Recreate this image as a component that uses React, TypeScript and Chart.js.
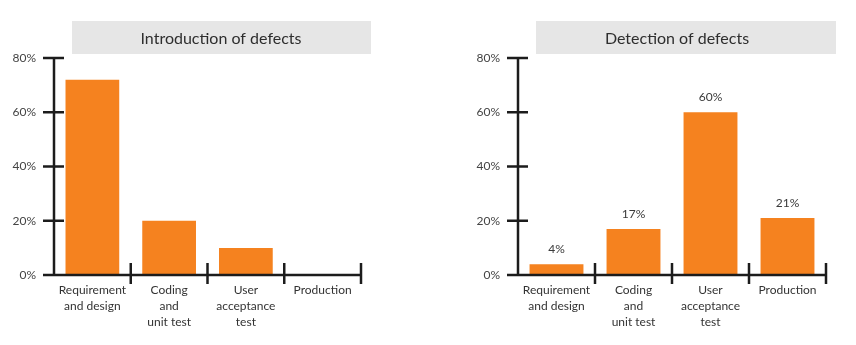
import React, { useEffect, useRef } from "react";
import { Chart, registerables } from "chart.js";
Chart.register(...registerables);

const categories: string[][] = [
  ["Requirement", "and design"],
  ["Coding", "and", "unit test"],
  ["User", "acceptance", "test"],
  ["Production"],
];
const introductionValues = [72, 20, 10, 0];
const detectionValues = [4, 17, 60, 21];
const yTicks = [0, 20, 40, 60, 80];
const introductionTitle = "Introduction of defects";
const detectionTitle = "Detection of defects";

const ORANGE = "#F5821F";
const AXIS = "#1c1c1c";
const FONT = "Lato, 'Open Sans', sans-serif";

const decorPlugin = {
  id: "decor",
  beforeDraw(chart: any, _args: any, opts: any) {
    const ctx = chart.ctx;
    ctx.save();
    ctx.fillStyle = "#e6e6e6";
    ctx.fillRect(opts.boxX, opts.boxY, opts.boxW, opts.boxH);
    ctx.fillStyle = "#2e2e2e";
    ctx.font = `16px ${FONT}`;
    ctx.textAlign = "center";
    ctx.textBaseline = "middle";
    ctx.fillText(opts.title, opts.textX, opts.boxY + opts.boxH / 2 + 1);
    ctx.restore();
  },
  afterDraw(chart: any, _args: any, opts: any) {
    const { ctx, chartArea, scales } = chart;
    const x = scales.x;
    const y = scales.y;
    const base = y.getPixelForValue(0);
    const top = y.getPixelForValue(yTicks[yTicks.length - 1]);
    const left = chartArea.left;
    ctx.save();
    ctx.strokeStyle = AXIS;
    ctx.lineWidth = 2.5;
    ctx.lineCap = "butt";
    ctx.beginPath();
    ctx.moveTo(left, top - 1);
    ctx.lineTo(left, base);
    ctx.moveTo(left, base);
    ctx.lineTo(chartArea.right, base);
    for (const t of yTicks) {
      const py = y.getPixelForValue(t);
      ctx.moveTo(left - 11, py);
      ctx.lineTo(left + 10, py);
    }
    const n = x.ticks.length;
    for (let i = 0; i < n; i++) {
      const px =
        i < n - 1
          ? (x.getPixelForValue(i) + x.getPixelForValue(i + 1)) / 2
          : chartArea.right;
      ctx.moveTo(px, base - 12);
      ctx.lineTo(px, base + 9);
    }
    ctx.stroke();

    if (opts.showValues) {
      const meta = chart.getDatasetMeta(0);
      const data = chart.data.datasets[0].data;
      ctx.fillStyle = "#3a3a3a";
      ctx.font = `12px ${FONT}`;
      ctx.textAlign = "center";
      ctx.textBaseline = "middle";
      meta.data.forEach((el: any, i: number) => {
        ctx.fillText(`${data[i]}%`, el.x, el.y - 15);
      });
    }
    ctx.restore();
  },
};

function makeConfig(
  values: number[],
  title: string,
  padLeft: number,
  padRight: number,
  box: { boxX: number; boxW: number; textX: number },
  showValues: boolean
): any {
  return {
    type: "bar",
    data: {
      labels: categories,
      datasets: [
        {
          data: values,
          backgroundColor: ORANGE,
          borderWidth: 0,
          barPercentage: 0.7,
          categoryPercentage: 1,
        },
      ],
    },
    plugins: [decorPlugin],
    options: {
      responsive: false,
      animation: false,
      layout: { padding: { top: 58, left: padLeft, right: padRight, bottom: 0 } },
      plugins: {
        legend: { display: false },
        tooltip: { enabled: false },
        decor: {
          title,
          boxX: box.boxX,
          boxY: 21,
          boxW: box.boxW,
          boxH: 33,
          textX: box.textX,
          showValues,
        },
      },
      scales: {
        x: {
          grid: { display: false, drawTicks: false },
          border: { display: false },
          ticks: {
            color: "#333",
            font: { family: FONT, size: 12, lineHeight: 1.34 },
            padding: 7,
            maxRotation: 0,
            autoSkip: false,
          },
          afterFit(scale: any) {
            scale.height = 70;
          },
        },
        y: {
          min: 0,
          max: 80,
          grid: { display: false, drawTicks: false },
          border: { display: false },
          afterBuildTicks(scale: any) {
            scale.ticks = yTicks.map((v) => ({ value: v }));
          },
          ticks: {
            color: "#444",
            font: { family: FONT, size: 12 },
            padding: 18,
            callback: (v: any) => `${v}%`,
          },
          afterFit(scale: any) {
            scale.width = 54;
          },
        },
      },
    },
  };
}

function BarPanel(props: {
  values: number[];
  title: string;
  width: number;
  padLeft: number;
  padRight: number;
  box: { boxX: number; boxW: number; textX: number };
  showValues: boolean;
}) {
  const ref = useRef<HTMLCanvasElement | null>(null);
  useEffect(() => {
    if (!ref.current) return;
    const chart = new Chart(
      ref.current,
      makeConfig(props.values, props.title, props.padLeft, props.padRight, props.box, props.showValues)
    );
    return () => chart.destroy();
  }, []);
  return (
    <canvas
      ref={ref}
      width={props.width}
      height={345}
      style={{ width: props.width, height: 345, display: "block" }}
    />
  );
}

export default function App() {
  return (
    <div
      style={{
        position: "fixed",
        left: 0,
        top: 0,
        width: 856,
        height: 345,
        background: "#fff",
        display: "flex",
      }}
    >
      <BarPanel
        values={introductionValues}
        title={introductionTitle}
        width={430}
        padLeft={0}
        padRight={69}
        box={{ boxX: 72, boxW: 299, textX: 221 }}
        showValues={false}
      />
      <BarPanel
        values={detectionValues}
        title={detectionTitle}
        width={426}
        padLeft={34}
        padRight={30}
        box={{ boxX: 106, boxW: 300, textX: 247 }}
        showValues={true}
      />
    </div>
  );
}
